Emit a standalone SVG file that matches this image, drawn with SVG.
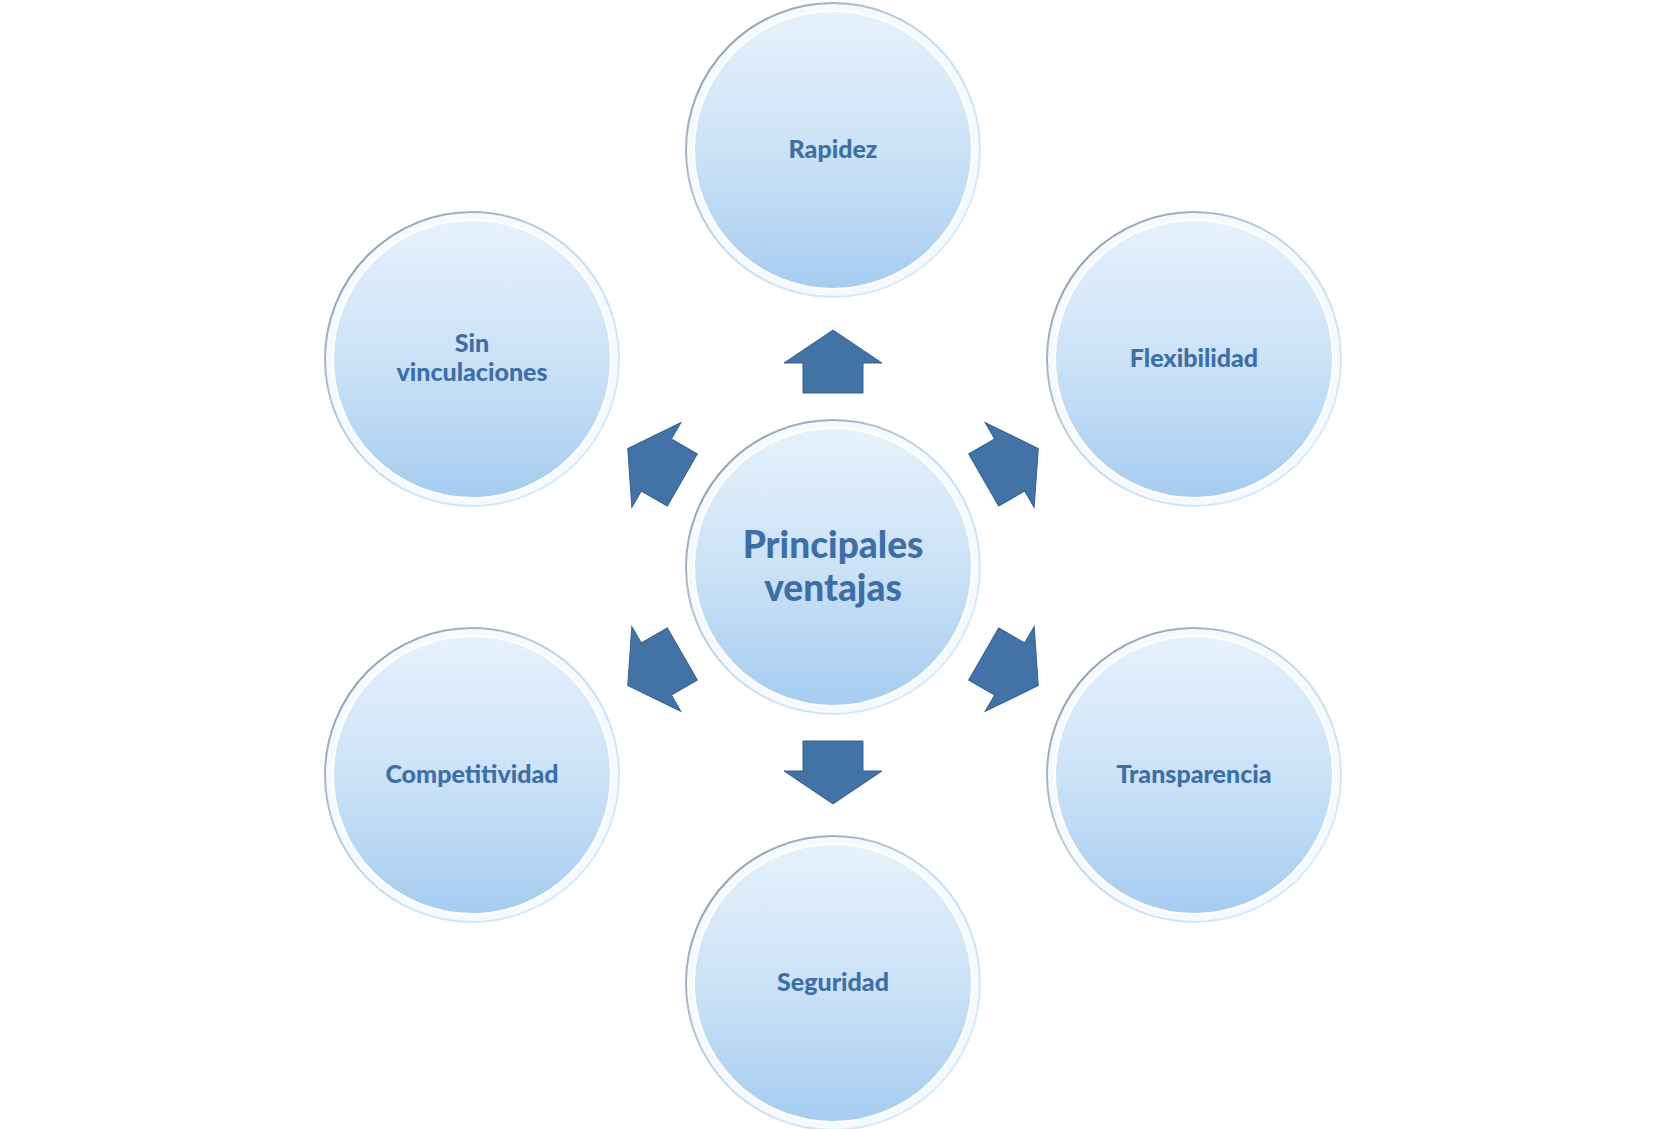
<svg xmlns="http://www.w3.org/2000/svg" width="1664" height="1129" viewBox="0 0 1664 1129">
<defs>
<linearGradient id="fill" x1="0" y1="0" x2="0" y2="1"><stop offset="0" stop-color="#E6F1FC"/><stop offset="0.5" stop-color="#CCE2F7"/><stop offset="1" stop-color="#A6CCF0"/></linearGradient>
<linearGradient id="rim" x1="0" y1="0" x2="1" y2="1"><stop offset="0" stop-color="#7F8B9C"/><stop offset="0.5" stop-color="#C9DCEC"/><stop offset="1" stop-color="#DDF3FF"/></linearGradient>
<g id="node"><circle r="147" fill="#F4FAFF" stroke="url(#rim)" stroke-width="2"/><circle r="139" fill="url(#fill)" stroke="#FFFFFF" stroke-width="2"/></g>
<path id="arr" d="M-30,-174 L-30,-204 L-49,-204 L0,-237 L49,-204 L30,-204 L30,-174 Z"/>
</defs>
<style>
text{font-family:Lato,"Open Sans","Liberation Sans",sans-serif;font-weight:900;fill:#3E6EA6;text-anchor:middle}
.s{font-size:25px}.c{font-size:37px}
#connectors use{fill:#4272A6;stroke:#35608F;stroke-width:1}
</style>
<rect width="1664" height="1129" fill="#FFFFFF"/>
<g id="connectors" transform="translate(833,567)">
<use href="#arr"/><use href="#arr" transform="rotate(60)"/><use href="#arr" transform="rotate(120)"/><use href="#arr" transform="rotate(180)"/><use href="#arr" transform="rotate(240)"/><use href="#arr" transform="rotate(300)"/>
</g>
<g id="center" transform="translate(833,567)"><use href="#node"/><text class="c" y="-9">Principales</text><text class="c" y="34">ventajas</text></g>
<g id="rapidez" transform="translate(833,150)"><use href="#node"/><text class="s" y="8">Rapidez</text></g>
<g id="flexibilidad" transform="translate(1194,359)"><use href="#node"/><text class="s" y="8">Flexibilidad</text></g>
<g id="transparencia" transform="translate(1194,775)"><use href="#node"/><text class="s" y="8">Transparencia</text></g>
<g id="seguridad" transform="translate(833,983)"><use href="#node"/><text class="s" y="8">Seguridad</text></g>
<g id="competitividad" transform="translate(472,775)"><use href="#node"/><text class="s" y="8">Competitividad</text></g>
<g id="sinvinc" transform="translate(472,359)"><use href="#node"/><text class="s" y="-7">Sin</text><text class="s" y="22">vinculaciones</text></g>
</svg>
